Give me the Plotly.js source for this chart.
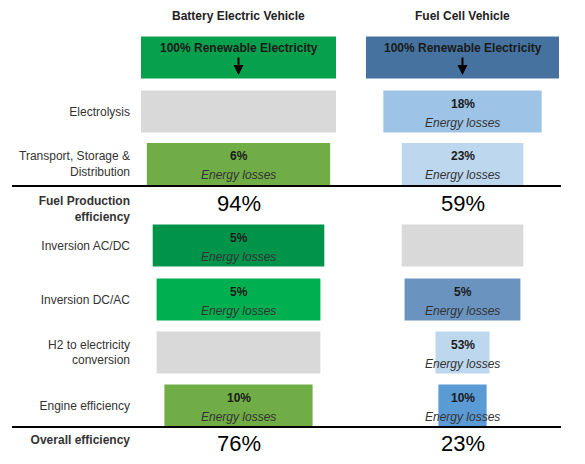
<!DOCTYPE html>
<html>
<head>
<meta charset="utf-8">
<script src="https://cdn.plot.ly/plotly-3.0.1.min.js"></script>
<style>
  html, body { margin: 0; padding: 0; background: #ffffff; }
  #chart { width: 585px; height: 464px; }
</style>
</head>
<body>
<div id="chart"></div>
<script>
// ---------------- data ----------------
const vehicles = ['Battery Electric Vehicle', 'Fuel Cell Vehicle'];
const sourceLabel = '100% Renewable Electricity';
const steps = ['Electrolysis', 'Transport, Storage &<br>Distribution', 'Inversion AC/DC',
               'Inversion DC/AC', 'H2 to electricity<br>conversion', 'Engine efficiency'];
// energy remaining after each stage (bar length), first value = source box
const bevRemaining = [100, 100, 94, 88, 84, 84, 76];
const fcvRemaining = [100, 82, 63, 63, 60, 28, 25];
// energy losses per stage (null = stage not applicable)
const bevLoss = [null, 6, 5, 5, null, 10];
const fcvLoss = [18, 23, null, 5, 53, 10];
const fuelEfficiency = [94, 59];
const overallEfficiency = [76, 23];
const fuelLabel = '<b>Fuel Production<br>efficiency</b>';
const overallLabel = '<b>Overall efficiency</b>';

// ---------------- layout constants ----------------
const W = 585, H = 464;
const rowY = [57.5, 111.5, 164, 245.5, 299.5, 352.5, 405.5]; // source, 6 steps
const fuelRowY = 209, overallRowY = 440;
const bevColors = ['#07a04c', '#d9d9d9', '#70ad47', '#00944a', '#00b050', '#d9d9d9', '#70ad47'];
const fcvColors = ['#45729f', '#9dc3e6', '#bdd7ee', '#d9d9d9', '#6a93c0', '#bdd7ee', '#5b9bd5'];
const FONT = '"Liberation Sans", Arial, sans-serif';

// column geometry in pixels -> axis ranges
function axisRange(px0, px1, center, scale) {
  return [(px0 - center) / scale, (px1 - center) / scale];
}
const split = 350, axStart = 136;
const xr1 = axisRange(axStart, split, 238.5, 1.95);
const xr2 = axisRange(split, W, 462.5, 1.93);

const traces = [
  {
    type: 'bar', orientation: 'h', xaxis: 'x', yaxis: 'y',
    y: rowY, x: bevRemaining, base: bevRemaining.map(v => -v / 2),
    width: 42, marker: {color: bevColors, line: {width: 0}},
    hoverinfo: 'skip', showlegend: false
  },
  {
    type: 'bar', orientation: 'h', xaxis: 'x2', yaxis: 'y',
    y: rowY, x: fcvRemaining, base: fcvRemaining.map(v => -v / 2),
    width: 42, marker: {color: fcvColors, line: {width: 0}},
    hoverinfo: 'skip', showlegend: false
  }
];

const annotations = [];
const txt = {family: FONT, size: 12, color: '#1a1a1a'};
['x', 'x2'].forEach((xref, i) => {
  annotations.push({xref: xref, yref: 'y', x: 0, y: 16, text: '<b>' + vehicles[i] + '</b>',
    showarrow: false, font: {family: FONT, size: 12, color: '#222'}});
  annotations.push({xref: xref, yref: 'y', x: 0, y: 48, text: '<b>' + sourceLabel + '</b>',
    showarrow: false, font: {family: FONT, size: 12, color: '#1a1a1a'}});
  annotations.push({xref: xref, yref: 'y', x: 0, y: 75, ax: 0, ay: -19, text: '',
    showarrow: true, arrowhead: 2, arrowsize: 1, arrowwidth: 2, arrowcolor: '#000'});
  const losses = i === 0 ? bevLoss : fcvLoss;
  losses.forEach((l, k) => {
    if (l === null) return;
    const cy = rowY[k + 1];
    annotations.push({xref: xref, yref: 'y', x: 0, y: cy - 8, text: '<b>' + l + '%</b>',
      showarrow: false, font: txt});
    annotations.push({xref: xref, yref: 'y', x: 0, y: cy + 11, text: '<i>Energy losses</i>',
      showarrow: false, font: {family: FONT, size: 12, color: '#333'}});
  });
  annotations.push({xref: xref, yref: 'y', x: 0, y: 203, text: fuelEfficiency[i] + '%',
    showarrow: false, font: {family: FONT, size: 22, color: '#000'}});
  annotations.push({xref: xref, yref: 'y', x: 0, y: 443, text: overallEfficiency[i] + '%',
    showarrow: false, font: {family: FONT, size: 22, color: '#000'}});
});

const layout = {
  width: W, height: H,
  margin: {l: 0, r: 0, t: 0, b: 0, pad: 0},
  paper_bgcolor: '#ffffff', plot_bgcolor: '#ffffff',
  barmode: 'overlay',
  showlegend: false,
  xaxis: {domain: [axStart / W, split / W], range: xr1, visible: false, fixedrange: true, anchor: 'y'},
  xaxis2: {domain: [split / W, 1], range: xr2, visible: false, fixedrange: true, anchor: 'y'},
  yaxis: {
    range: [H, 0], domain: [0, 1], anchor: 'x',
    tickvals: rowY.slice(1).concat([fuelRowY, overallRowY]),
    ticktext: steps.concat([fuelLabel, overallLabel]),
    ticks: '', ticklabelstandoff: 5, showgrid: false, zeroline: false, showline: false,
    tickfont: {family: FONT, size: 12, color: '#333'}, fixedrange: true
  },
  shapes: [
    {type: 'line', xref: 'paper', yref: 'y', x0: 12 / W, x1: 561 / W, y0: 186, y1: 186,
     line: {color: '#000', width: 2}},
    {type: 'line', xref: 'paper', yref: 'y', x0: 12 / W, x1: 561 / W, y0: 427, y1: 427,
     line: {color: '#000', width: 2}}
  ],
  annotations: annotations
};

Plotly.newPlot('chart', traces, layout, {displayModeBar: false, staticPlot: true});
</script>
</body>
</html>
